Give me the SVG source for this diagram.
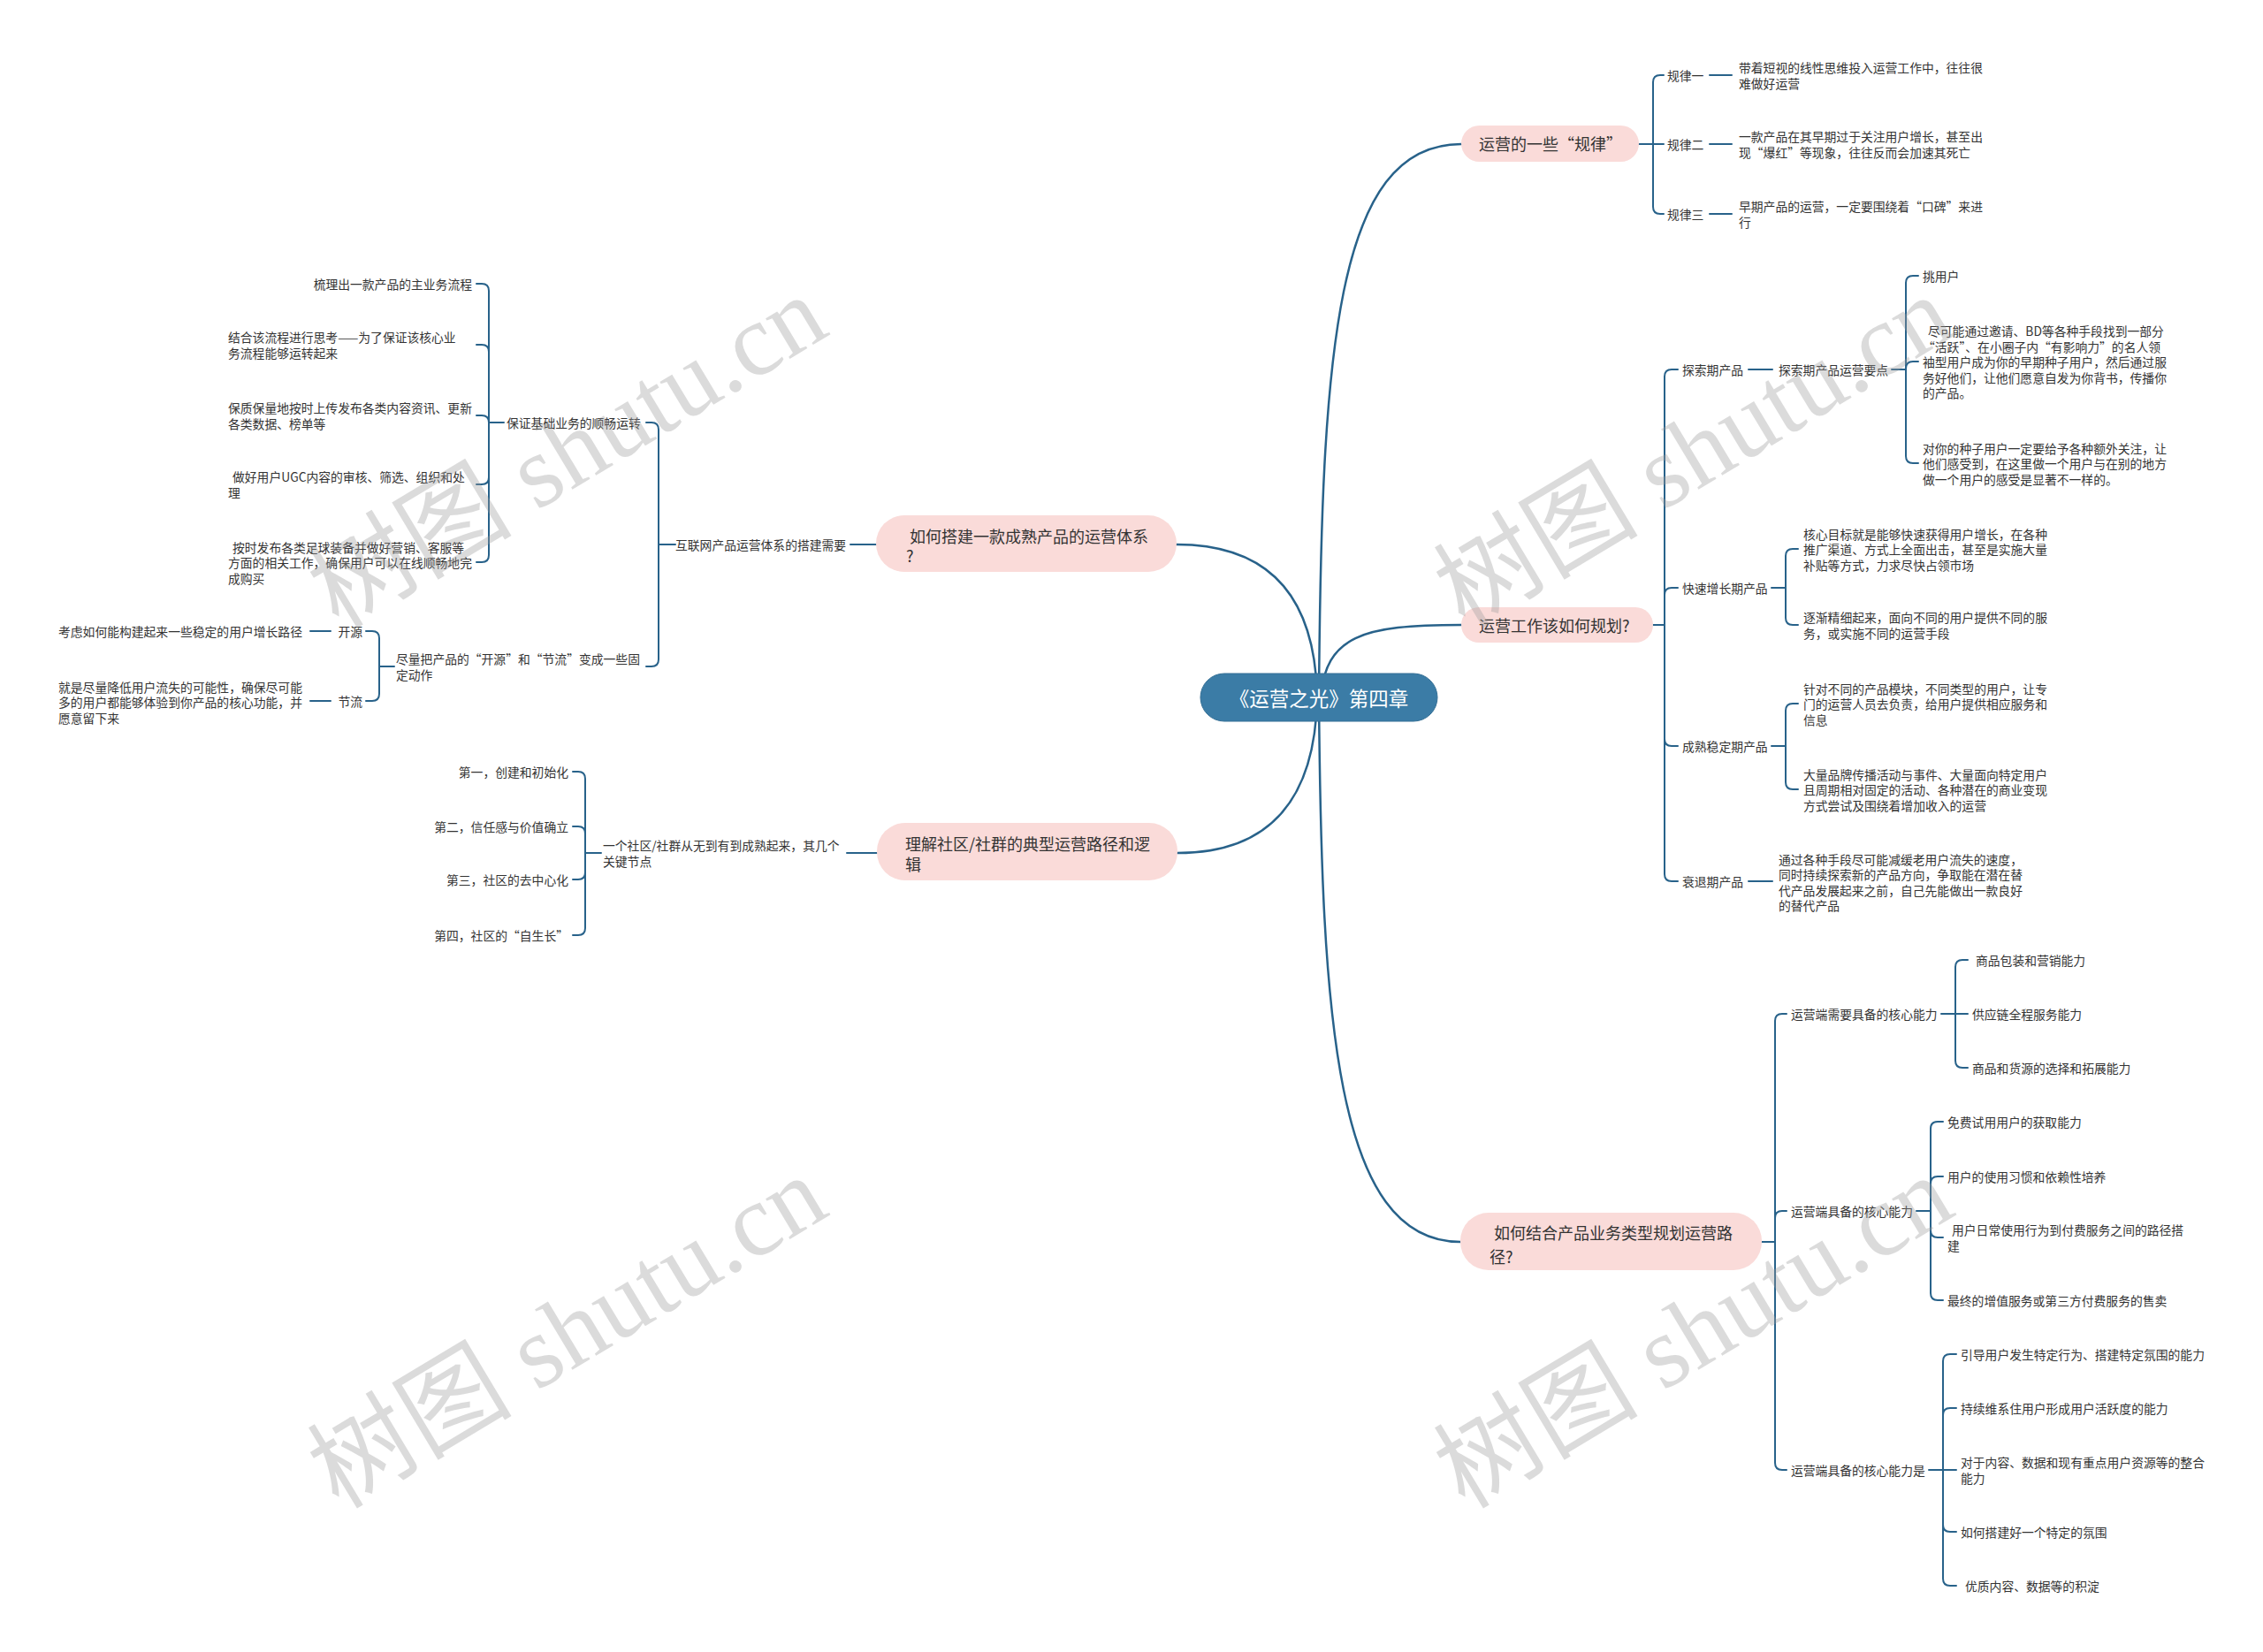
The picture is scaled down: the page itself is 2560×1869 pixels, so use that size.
<svg xmlns="http://www.w3.org/2000/svg" width="2560" height="1869" viewBox="0 0 2560 1869">
<style>
text{font-family:"Noto Sans CJK SC","Liberation Sans",sans-serif;dominant-baseline:central}
.t{font-size:13.8px;fill:#333}
.e{text-anchor:end}
.n1{font-size:18px;fill:#333}
.c{font-size:22.5px;fill:#fff;text-anchor:middle}
.l{fill:none;stroke:#28628a;stroke-width:2;stroke-linecap:round}
.m{stroke-width:2.5}
.p{fill:#fadbd9}
.wm{font-family:"Liberation Serif","Noto Sans CJK SC",serif;font-size:116px;fill:#9a9a9a;fill-opacity:0.36;dominant-baseline:alphabetic;text-anchor:middle}
</style>
<rect width="2560" height="1869" fill="#fff"/>
<g id="connectors">
<path class="l m" d="M1492 789 C1495 400 1510 163 1653 163"/>
<path class="l m" d="M1494 789 C1500 720 1540 707 1653 707"/>
<path class="l m" d="M1492 789 C1495 1150 1510 1405 1652 1405"/>
<path class="l m" d="M1490 789 C1488 680 1440 616 1331 616"/>
<path class="l m" d="M1490 789 C1488 900 1440 965 1332 965"/>
<path class="l" d="M1854 163 H1870 M1870 163 V93 Q1870 85 1878 85 H1882 M1870 163 H1882 M1870 163 V234 Q1870 242 1878 242 H1882"/>
<path class="l" d="M1934 85 H1959 M1934 163 H1959 M1934 242 H1959"/>
<path class="l" d="M1870 707 H1883 M1883 707 V426 Q1883 418 1891 418 H1898 M1883 707 V673 Q1883 665 1891 665 H1898 M1883 707 V836 Q1883 844 1891 844 H1898 M1883 707 V989 Q1883 997 1891 997 H1898"/>
<path class="l" d="M1978 418 H2005"/>
<path class="l" d="M2140 418 H2156 M2156 418 V320 Q2156 312 2164 312 H2170 M2156 418 V417 Q2156 409 2164 409 H2170 M2156 418 V516 Q2156 524 2164 524 H2170"/>
<path class="l" d="M2004 665 H2020 M2020 665 V629 Q2020 621 2028 621 H2034 M2020 665 V699 Q2020 707 2028 707 H2034"/>
<path class="l" d="M2004 844 H2020 M2020 844 V804 Q2020 796 2028 796 H2034 M2020 844 V885 Q2020 893 2028 893 H2034"/>
<path class="l" d="M1978 997 H2005"/>
<path class="l" d="M1993 1405 H2008 M2008 1405 V1155 Q2008 1147 2016 1147 H2021 M2008 1405 V1378 Q2008 1370 2016 1370 H2021 M2008 1405 V1655 Q2008 1663 2016 1663 H2021"/>
<path class="l" d="M2196 1147 H2212 M2212 1147 V1094 Q2212 1086 2220 1086 H2226 M2212 1147 H2226 M2212 1147 V1200 Q2212 1208 2220 1208 H2226"/>
<path class="l" d="M2168 1370 H2184 M2184 1370 V1277 Q2184 1269 2192 1269 H2198 M2184 1370 V1339 Q2184 1331 2192 1331 H2198 M2184 1370 V1392 Q2184 1400 2192 1400 H2198 M2184 1370 V1463 Q2184 1471 2192 1471 H2198"/>
<path class="l" d="M2182 1663 H2198 M2198 1663 V1540 Q2198 1532 2206 1532 H2213 M2198 1663 V1601 Q2198 1593 2206 1593 H2213 M2198 1663 H2213 M2198 1663 V1725 Q2198 1733 2206 1733 H2213 M2198 1663 V1786 Q2198 1794 2206 1794 H2213"/>
<path class="l" d="M991 616 H962"/>
<path class="l" d="M764 616 H745 M745 616 V486 Q745 478 737 478 H731 M745 616 V746 Q745 754 737 754 H731"/>
<path class="l" d="M570 478 H553 M553 478 V329 Q553 321 545 321 H539 M553 478 V398 Q553 390 545 390 H539 M553 478 Q553 470 545 470 H539 M553 478 V540 Q553 548 545 548 H539 M553 478 V628 Q553 636 545 636 H539"/>
<path class="l" d="M446 754 H429 M429 754 V722 Q429 714 421 714 H414 M429 754 V785 Q429 793 421 793 H414"/>
<path class="l" d="M374 714 H351 M374 793 H351"/>
<path class="l" d="M992 965 H958"/>
<path class="l" d="M680 965 H662 M662 965 V881 Q662 873 654 873 H648 M662 965 V943 Q662 935 654 935 H648 M662 965 V987 Q662 995 654 995 H648 M662 965 V1050 Q662 1058 654 1058 H648"/>
</g>
<g id="root">
<rect x="1358" y="762" width="268" height="54" rx="27" fill="#3b7ca6" stroke="#346f95" stroke-width="1"/>
<text class="c" x="1492" y="789">《运营之光》第四章</text>
</g>
<g id="n-rules">
<rect class="p" x="1653" y="142" width="201" height="41" rx="20.5"/>
<text class="n1" x="1673" y="162">运营的一些“规律”</text>
<text class="t" x="1886" y="85">规律一</text>
<text class="t" x="1886" y="163">规律二</text>
<text class="t" x="1886" y="242">规律三</text>
<text class="t" x="1967" y="76.25">带着短视的线性思维投入运营工作中，往往很</text>
<text class="t" x="1967" y="93.75">难做好运营</text>
<text class="t" x="1967" y="154.25">一款产品在其早期过于关注用户增长，甚至出</text>
<text class="t" x="1967" y="171.75">现“爆红”等现象，往往反而会加速其死亡</text>
<text class="t" x="1967" y="233.25">早期产品的运营，一定要围绕着“口碑”来进</text>
<text class="t" x="1967" y="250.75">行</text>
</g>
<g id="n-plan">
<rect class="p" x="1653" y="687" width="217" height="40" rx="20"/>
<text class="n1" x="1673" y="707">运营工作该如何规划?</text>
<text class="t" x="1903" y="418">探索期产品</text>
<text class="t" x="2012" y="418">探索期产品运营要点</text>
<text class="t" x="2175" y="312">挑用户</text>
<text class="t" x="2181" y="374">尽可能通过邀请、BD等各种手段找到一部分</text>
<text class="t" x="2175" y="391.5">“活跃”、在小圈子内“有影响力”的名人领</text>
<text class="t" x="2175" y="409">袖型用户成为你的早期种子用户，然后通过服</text>
<text class="t" x="2175" y="426.5">务好他们，让他们愿意自发为你背书，传播你</text>
<text class="t" x="2175" y="444">的产品。</text>
<text class="t" x="2175" y="506.5">对你的种子用户一定要给予各种额外关注，让</text>
<text class="t" x="2175" y="524">他们感受到，在这里做一个用户与在别的地方</text>
<text class="t" x="2175" y="541.5">做一个用户的感受是显著不一样的。</text>
<text class="t" x="1903" y="665">快速增长期产品</text>
<text class="t" x="2040" y="603.5">核心目标就是能够快速获得用户增长，在各种</text>
<text class="t" x="2040" y="621">推广渠道、方式上全面出击，甚至是实施大量</text>
<text class="t" x="2040" y="638.5">补贴等方式，力求尽快占领市场</text>
<text class="t" x="2040" y="698.25">逐渐精细起来，面向不同的用户提供不同的服</text>
<text class="t" x="2040" y="715.75">务，或实施不同的运营手段</text>
<text class="t" x="1903" y="844">成熟稳定期产品</text>
<text class="t" x="2040" y="778.5">针对不同的产品模块，不同类型的用户，让专</text>
<text class="t" x="2040" y="796">门的运营人员去负责，给用户提供相应服务和</text>
<text class="t" x="2040" y="813.5">信息</text>
<text class="t" x="2040" y="875.5">大量品牌传播活动与事件、大量面向特定用户</text>
<text class="t" x="2040" y="893">且周期相对固定的活动、各种潜在的商业变现</text>
<text class="t" x="2040" y="910.5">方式尝试及围绕着增加收入的运营</text>
<text class="t" x="1903" y="997">衰退期产品</text>
<text class="t" x="2012" y="971.75">通过各种手段尽可能减缓老用户流失的速度，</text>
<text class="t" x="2012" y="989.25">同时持续探索新的产品方向，争取能在潜在替</text>
<text class="t" x="2012" y="1006.75">代产品发展起来之前，自己先能做出一款良好</text>
<text class="t" x="2012" y="1024.25">的替代产品</text>
</g>
<g id="n-path">
<rect class="p" x="1652" y="1372" width="341" height="65" rx="32"/>
<text class="n1" x="1690" y="1394">如何结合产品业务类型规划运营路</text>
<text class="n1" x="1685" y="1421">径?</text>
<text class="t" x="2026" y="1147">运营端需要具备的核心能力</text>
<text class="t" x="2235" y="1086">商品包装和营销能力</text>
<text class="t" x="2231" y="1147">供应链全程服务能力</text>
<text class="t" x="2231" y="1208">商品和货源的选择和拓展能力</text>
<text class="t" x="2026" y="1370">运营端具备的核心能力</text>
<text class="t" x="2203" y="1269">免费试用用户的获取能力</text>
<text class="t" x="2203" y="1331">用户的使用习惯和依赖性培养</text>
<text class="t" x="2208" y="1391.25">用户日常使用行为到付费服务之间的路径搭</text>
<text class="t" x="2203" y="1408.75">建</text>
<text class="t" x="2203" y="1471">最终的增值服务或第三方付费服务的售卖</text>
<text class="t" x="2026" y="1663">运营端具备的核心能力是</text>
<text class="t" x="2218" y="1532">引导用户发生特定行为、搭建特定氛围的能力</text>
<text class="t" x="2218" y="1593">持续维系住用户形成用户活跃度的能力</text>
<text class="t" x="2218" y="1654.25">对于内容、数据和现有重点用户资源等的整合</text>
<text class="t" x="2218" y="1671.75">能力</text>
<text class="t" x="2218" y="1733">如何搭建好一个特定的氛围</text>
<text class="t" x="2223" y="1794">优质内容、数据等的积淀</text>
</g>
<g id="n-system">
<rect class="p" x="991" y="583" width="340" height="64" rx="32"/>
<text class="n1" x="1029" y="606">如何搭建一款成熟产品的运营体系</text>
<text class="n1" x="1025" y="628">?</text>
<text class="t" x="764" y="616">互联网产品运营体系的搭建需要</text>
<text class="t" x="573" y="478">保证基础业务的顺畅运转</text>
<text class="t e" x="534" y="321">梳理出一款产品的主业务流程</text>
<text class="t" x="258" y="381.25">结合该流程进行思考——为了保证该核心业</text>
<text class="t" x="258" y="398.75">务流程能够运转起来</text>
<text class="t" x="258" y="461.25">保质保量地按时上传发布各类内容资讯、更新</text>
<text class="t" x="258" y="478.75">各类数据、榜单等</text>
<text class="t" x="263" y="539.25">做好用户UGC内容的审核、筛选、组织和处</text>
<text class="t" x="258" y="556.75">理</text>
<text class="t" x="263" y="618.5">按时发布各类足球装备并做好营销、客服等</text>
<text class="t" x="258" y="636">方面的相关工作，确保用户可以在线顺畅地完</text>
<text class="t" x="258" y="653.5">成购买</text>
<text class="t" x="448" y="745.25">尽量把产品的“开源”和“节流”变成一些固</text>
<text class="t" x="448" y="762.75">定动作</text>
<text class="t e" x="410" y="714">开源</text>
<text class="t e" x="410" y="793">节流</text>
<text class="t" x="66" y="714">考虑如何能构建起来一些稳定的用户增长路径</text>
<text class="t" x="66" y="776.5">就是尽量降低用户流失的可能性，确保尽可能</text>
<text class="t" x="66" y="794">多的用户都能够体验到你产品的核心功能，并</text>
<text class="t" x="66" y="811.5">愿意留下来</text>
</g>
<g id="n-community">
<rect class="p" x="992" y="931" width="340" height="65" rx="32"/>
<text class="n1" x="1024" y="954">理解社区/社群的典型运营路径和逻</text>
<text class="n1" x="1024" y="977">辑</text>
<text class="t" x="682" y="956.25">一个社区/社群从无到有到成熟起来，其几个</text>
<text class="t" x="682" y="973.75">关键节点</text>
<text class="t e" x="643" y="873">第一，创建和初始化</text>
<text class="t e" x="643" y="935">第二，信任感与价值确立</text>
<text class="t e" x="643" y="995">第三，社区的去中心化</text>
<text class="t e" x="643" y="1058">第四，社区的“自生长”</text>
</g>
<g id="watermark">
<text class="wm" transform="translate(662 545) rotate(-31)">树图 shutu.cn</text>
<text class="wm" transform="translate(1936 545) rotate(-31)">树图 shutu.cn</text>
<text class="wm" transform="translate(662 1541) rotate(-31)">树图 shutu.cn</text>
<text class="wm" transform="translate(1936 1541) rotate(-31)">树图 shutu.cn</text>
</g>
</svg>
